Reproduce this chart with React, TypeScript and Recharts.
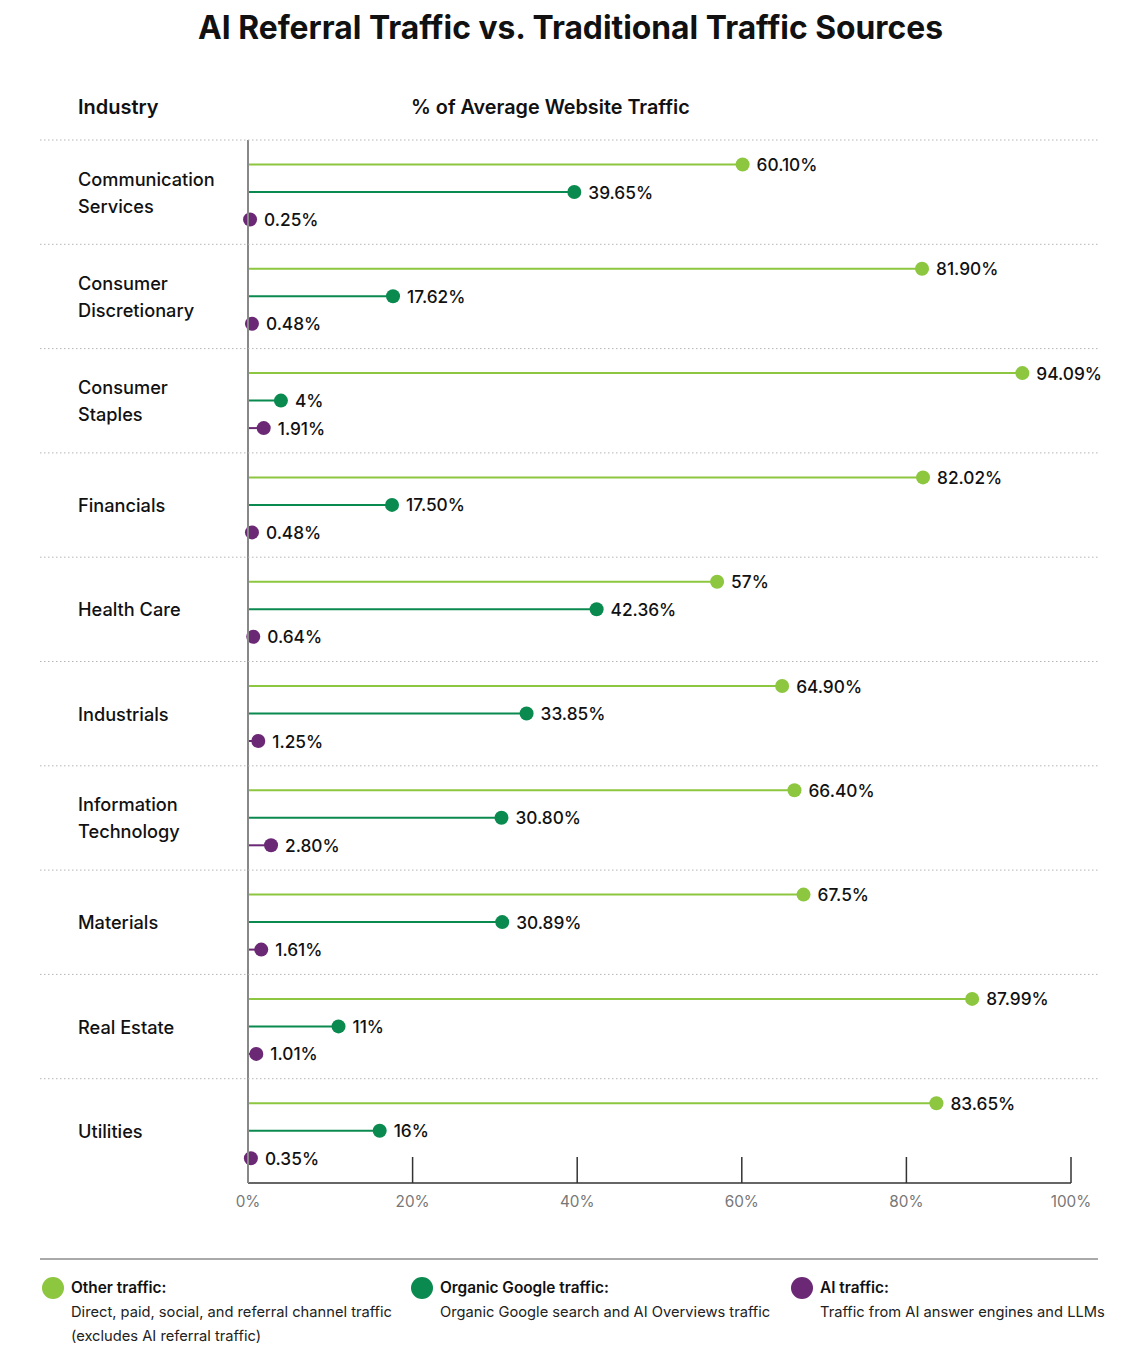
import React from 'react';
import { BarChart, Bar, XAxis, YAxis } from 'recharts';

// Industries (line breaks mark where the axis label wraps)
const industries = [
  'Communication\nServices',
  'Consumer\nDiscretionary',
  'Consumer\nStaples',
  'Financials',
  'Health Care',
  'Industrials',
  'Information\nTechnology',
  'Materials',
  'Real Estate',
  'Utilities',
];

// Share of average website traffic, in percent (kept as printed)
const otherTraffic = ['60.10', '81.90', '94.09', '82.02', '57', '64.90', '66.40', '67.5', '87.99', '83.65'];
const googleTraffic = ['39.65', '17.62', '4', '17.50', '42.36', '33.85', '30.80', '30.89', '11', '16'];
const aiTraffic = ['0.25', '0.48', '1.91', '0.48', '0.64', '1.25', '2.80', '1.61', '1.01', '0.35'];

const xTicks = [0, 20, 40, 60, 80, 100];

const legendItems = [
  { key: 'other', title: 'Other traffic:', lines: ['Direct, paid, social, and referral channel traffic', '(excludes AI referral traffic)'], left: 42 },
  { key: 'google', title: 'Organic Google traffic:', lines: ['Organic Google search and AI Overviews traffic'], left: 411 },
  { key: 'ai', title: 'AI traffic:', lines: ['Traffic from AI answer engines and LLMs'], left: 791 },
];

const COLORS: Record<string, string> = {
  other: '#8DC63F',
  google: '#0B8A4F',
  ai: '#6B2874',
};

const FONT = 'Inter, "Noto Sans", sans-serif';
const W = 1148;
const H = 1368;
const PLOT_LEFT = 248;
const PLOT_RIGHT = 1071;
const PLOT_TOP = 140;
const PLOT_BOTTOM = 1183;
const CHART_H = 1240;
const ROW = (PLOT_BOTTOM - PLOT_TOP) / industries.length;

const data = industries.map((industry, i) => ({
  industry,
  other: Number(otherTraffic[i]),
  google: Number(googleTraffic[i]),
  ai: Number(aiTraffic[i]),
  otherLabel: `${otherTraffic[i]}%`,
  googleLabel: `${googleTraffic[i]}%`,
  aiLabel: `${aiTraffic[i]}%`,
}));

function Lollipop(props: any) {
  const { x, y, width, height, payload, labelKey, color } = props;
  const cy = y + height / 2;
  const cx = x + width;
  return (
    <g>
      <line x1={x} y1={cy} x2={cx} y2={cy} stroke={color} strokeWidth={2} />
      <circle cx={cx} cy={cy} r={7} fill={color} />
      <text
        x={cx + 14}
        y={cy}
        dominantBaseline="central"
        fontFamily={FONT}
        fontSize={17.3}
        fontWeight={500}
        fill="#111"
      >
        {payload[labelKey]}
      </text>
    </g>
  );
}

function IndustryTick(props: any) {
  const { y, payload } = props;
  const lines = String(payload.value).split('\n');
  const lh = 27;
  const start = y - ((lines.length - 1) * lh) / 2;
  return (
    <g>
      <line
        x1={40}
        x2={1098}
        y1={y - ROW / 2}
        y2={y - ROW / 2}
        stroke="#b5b5b5"
        strokeWidth={1}
        strokeDasharray="1.5 2.5"
      />
      {lines.map((ln, i) => (
        <text
          key={i}
          x={78}
          y={start + i * lh}
          dominantBaseline="central"
          fontFamily={FONT}
          fontSize={18.2}
          fontWeight={500}
          fill="#111"
        >
          {ln}
        </text>
      ))}
    </g>
  );
}

function PercentTick(props: any) {
  const { x, payload } = props;
  const v = payload.value;
  return (
    <g>
      {v > 0 && (
        <line x1={x} x2={x} y1={PLOT_BOTTOM} y2={PLOT_BOTTOM - 26} stroke="#333" strokeWidth={1.5} />
      )}
      <text
        x={x}
        y={PLOT_BOTTOM + 18}
        textAnchor="middle"
        dominantBaseline="central"
        fontFamily={FONT}
        fontSize={15.3}
        fill="#777"
      >
        {`${v}%`}
      </text>
    </g>
  );
}

export default function App() {
  return (
    <div
      style={{
        position: 'absolute',
        left: 0,
        top: 0,
        width: W,
        height: H,
        background: '#fff',
        fontFamily: FONT,
        color: '#111',
        overflow: 'hidden',
      }}
    >
      <svg width={W} height={60} style={{ position: 'absolute', left: 0, top: 0 }}>
        <text
          x={198}
          y={27}
          dominantBaseline="central"
          fontFamily={FONT}
          fontSize={32}
          fontWeight={700}
          fill="#111"
          textLength={745}
          lengthAdjust="spacingAndGlyphs"
        >
          AI Referral Traffic vs. Traditional Traffic Sources
        </text>
      </svg>

      <div style={{ position: 'absolute', left: 78, top: 94, fontSize: 20, fontWeight: 600, lineHeight: '26px' }}>
        Industry
      </div>
      <div style={{ position: 'absolute', left: 411, top: 94, fontSize: 19.8, fontWeight: 600, lineHeight: '26px' }}>
        % of Average Website Traffic
      </div>

      <div style={{ position: 'absolute', left: 0, top: 0 }}>
        <BarChart
          width={W}
          height={CHART_H}
          data={data}
          layout="vertical"
          margin={{ top: PLOT_TOP, right: W - PLOT_RIGHT, left: 0, bottom: 0 }}
          barSize={19}
          barGap={8.5}
        >
          <XAxis
            type="number"
            domain={[0, 100]}
            ticks={xTicks}
            interval={0}
            height={CHART_H - PLOT_BOTTOM}
            axisLine={{ stroke: '#666', strokeWidth: 2 }}
            tickLine={false}
            tick={<PercentTick />}
          />
          <YAxis
            type="category"
            dataKey="industry"
            width={PLOT_LEFT}
            interval={0}
            axisLine={{ stroke: '#888', strokeWidth: 2 }}
            tickLine={false}
            tick={<IndustryTick />}
          />
          <Bar
            dataKey="other"
            isAnimationActive={false}
            shape={(p: any) => <Lollipop {...p} labelKey="otherLabel" color={COLORS.other} />}
          />
          <Bar
            dataKey="google"
            isAnimationActive={false}
            shape={(p: any) => <Lollipop {...p} labelKey="googleLabel" color={COLORS.google} />}
          />
          <Bar
            dataKey="ai"
            isAnimationActive={false}
            shape={(p: any) => <Lollipop {...p} labelKey="aiLabel" color={COLORS.ai} />}
          />
        </BarChart>
      </div>

      <div style={{ position: 'absolute', left: 40, top: 1258, width: 1058, height: 2, background: '#aaa' }} />
      {legendItems.map((item) => (
        <div key={item.key} style={{ position: 'absolute', left: item.left, top: 1276 }}>
          <div
            style={{
              position: 'absolute',
              left: 0,
              top: 1,
              width: 22,
              height: 22,
              borderRadius: '50%',
              background: COLORS[item.key],
            }}
          />
          <div style={{ position: 'absolute', left: 29, top: 0, whiteSpace: 'nowrap' }}>
            <div style={{ fontSize: 15.4, fontWeight: 600, lineHeight: '24px' }}>{item.title}</div>
            {item.lines.map((ln) => (
              <div key={ln} style={{ fontSize: 14.7, fontWeight: 400, lineHeight: '24px', color: '#222' }}>
                {ln}
              </div>
            ))}
          </div>
        </div>
      ))}
    </div>
  );
}
